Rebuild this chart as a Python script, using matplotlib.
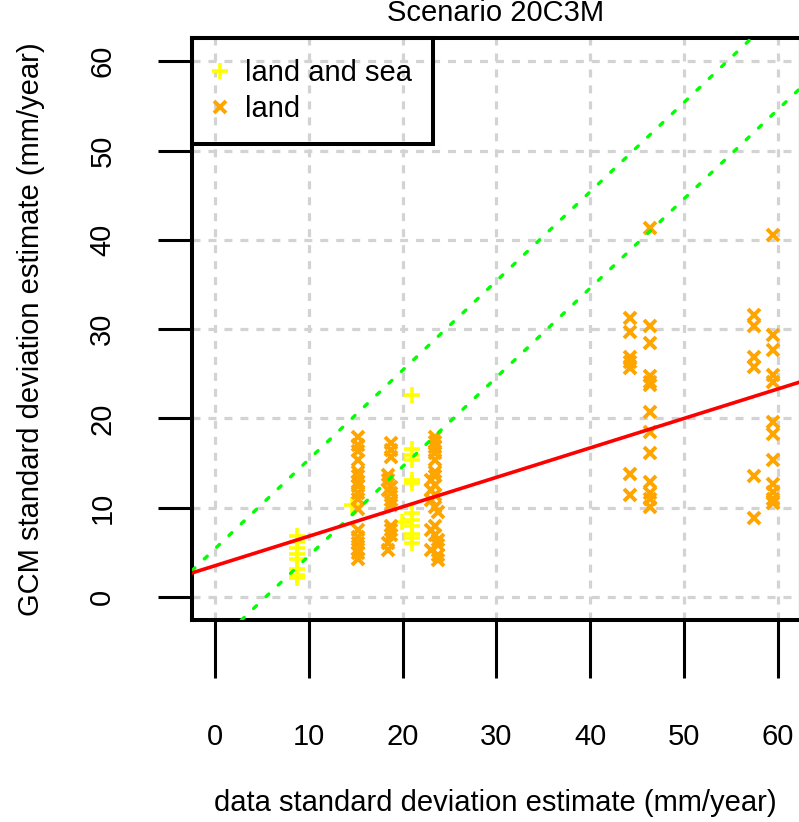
import matplotlib.pyplot as plt
import numpy as np
from matplotlib.lines import Line2D

plt.rcParams['font.family'] = ['Liberation Sans', 'DejaVu Sans']

# land and sea points
ls_x = [8.7, 8.7, 8.7, 8.7, 8.7, 8.7, 8.7, 8.7,
        14.6,
        21.0, 21.0, 21.0, 21.0, 21.0, 21.0, 21.0, 21.0, 21.0, 21.0, 21.0, 21.0,
        19.9]
ls_y = [6.8, 6.2, 5.5, 4.8, 4.2, 3.1, 2.5, 2.1,
        10.3,
        22.6, 16.6, 15.9, 15.3, 13.1, 12.8, 9.4, 8.6, 7.9, 7.1, 6.6, 6.0,
        8.4]

# land-only points
land_x = [15.2] * 17 + [18.8] * 10 + [18.4] * 5 + [23.4] * 12 + [23.0] * 5 + [23.8] * 5 \
    + [44.2] * 7 + [46.4] * 13 + [57.4] * 6 + [59.5] * 12
land_y = [17.9, 17.0, 16.3, 15.3, 14.0, 13.5, 12.9, 12.4, 11.6, 11.0, 9.9,
          7.5, 6.7, 6.0, 5.4, 4.9, 4.3,
          17.2, 16.5, 15.7, 12.3, 11.6, 10.9, 10.3, 8.0, 7.5, 6.9,
          13.7, 13.1, 12.0, 6.0, 5.3,
          17.9, 17.4, 16.8, 16.1, 15.3, 14.0, 13.5, 12.5, 11.4, 10.1, 8.0, 6.9,
          13.1, 12.0, 10.9, 7.5, 5.3,
          9.5, 6.4, 5.8, 4.7, 4.1,
          31.2, 29.7, 26.9, 26.3, 25.6, 13.8, 11.4,
          41.3, 30.3, 28.4, 24.7, 24.1, 23.7, 20.7, 18.5, 16.1, 12.9, 11.6, 11.0, 10.1,
          31.6, 30.3, 26.9, 25.8, 13.5, 8.8,
          40.5, 29.3, 27.7, 24.9, 24.1, 19.6, 18.3, 15.3, 12.7, 11.8, 11.0, 10.5]

# fitted line and +/- band around 1:1
fit_a, fit_b = 3.5, 0.33
band = 5.4

ticks = [0, 10, 20, 30, 40, 50, 60]
xlim = (-2.45, 62.24)
ylim = (-2.58, 62.6)
fs = 21

fig = plt.figure(figsize=(7.99, 8.22), dpi=100)
ax = fig.add_axes([192 / 799, 202 / 822, 607 / 799, 582 / 822])
ax.set_xlim(*xlim)
ax.set_ylim(*ylim)

grid_kw = dict(color='#d3d3d3', lw=2.3, linestyle=(0, (2.5, 2.5)), zorder=0)
for t in ticks:
    ax.axvline(t, **grid_kw)
    ax.axhline(t, **grid_kw)

xx = np.array(xlim)
dot = dict(color='#00ff00', lw=2.4, linestyle=(0, (1.2, 3.9)),
           dash_capstyle='round', zorder=3)
ax.plot(xx, xx + band, **dot)
ax.plot(xx, xx - band, **dot)
ax.plot(xx, fit_a + fit_b * xx, color='#ff0000', lw=2.6, zorder=3)

ax.plot(ls_x, ls_y, linestyle='none', marker='+', ms=12, mew=2.6,
        color='#ffff00', zorder=2)
ax.plot(land_x, land_y, linestyle='none', marker='x', ms=9, mew=2.8,
        color='#ffa500', zorder=2)

for s in ['left', 'bottom', 'top']:
    ax.spines[s].set_linewidth(2.9)
ax.spines['right'].set_color('#c8c8c8')
ax.spines['right'].set_linewidth(1)

ax.set_xticks(ticks)
ax.set_yticks(ticks)
ax.tick_params(axis='x', length=41.8, width=2.2, pad=32, labelsize=fs)
ax.tick_params(axis='y', length=24.5, width=2.2, pad=30, labelsize=fs,
               labelrotation=90)
for lab in ax.get_yticklabels():
    lab.set_va('center')

ax.set_xlabel('data standard deviation estimate (mm/year)', fontsize=fs,
              labelpad=28)
ax.set_ylabel('GCM standard deviation estimate (mm/year)', fontsize=fs,
              labelpad=31)
fig.text((192 + 799) / 2 / 799, 1 - 13 / 822, 'Scenario 20C3M', fontsize=fs,
         ha='center', va='center')

handles = [Line2D([], [], linestyle='none', marker='+', ms=12, mew=2.6, color='#ffff00'),
           Line2D([], [], linestyle='none', marker='x', ms=9, mew=2.8, color='#ffa500')]
leg = ax.legend(handles, ['land and sea', 'land'], loc='upper left',
                borderaxespad=0, fontsize=fs, frameon=True, fancybox=False,
                facecolor='none', edgecolor='black', framealpha=1,
                handlelength=0.5, handletextpad=0.6, borderpad=0.72,
                labelspacing=0.28)
leg.get_frame().set_linewidth(2.9)

fig.savefig('out.png', dpi=100)
